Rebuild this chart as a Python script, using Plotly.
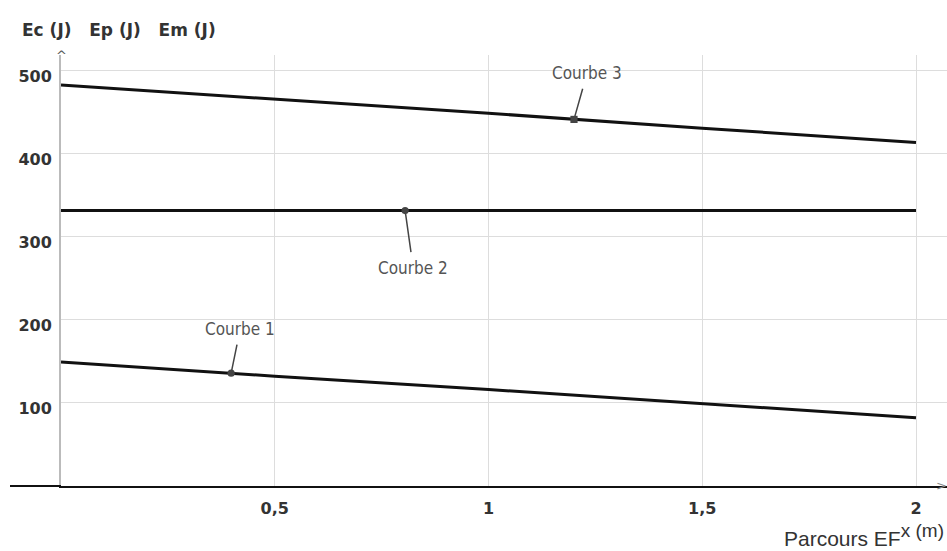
import plotly.graph_objects as go

# Data
x_vals = [0, 0.5, 1, 1.5, 2]
courbe1 = [149, 132, 116, 99, 82]
courbe2 = [331, 331, 331, 331, 331]
courbe3 = [482, 465, 448, 430, 413]

x_tickvals = [0, 0.5, 1, 1.5, 2]
x_ticktext = ["", "0,5", "1", "1,5", "2"]
y_tickvals = [100, 200, 300, 400, 500]
y_ticktext = ["100", "200", "300", "400", "500"]

W, H = 947, 551
def px(xp):
    return xp / W
def py(yp):
    return 1 - yp / H

fig = go.Figure()
for ys in (courbe1, courbe2, courbe3):
    fig.add_trace(go.Scatter(x=x_vals, y=ys, mode="lines",
                             line=dict(color="#111111", width=3), showlegend=False))

tick_font = dict(family="DejaVu Sans", size=16, color="#333333", weight="bold")
fig.update_layout(
    width=W, height=H, margin=dict(l=0, r=0, t=0, b=0),
    paper_bgcolor="white", plot_bgcolor="white",
    xaxis=dict(domain=[61 / W, 1], range=[0, (947 - 61) / 427.5],
               tickvals=x_tickvals, ticktext=x_ticktext,
               showgrid=True, gridcolor="#dddddd", gridwidth=1,
               zeroline=False, showline=True, linecolor="#111111", linewidth=2,
               ticks="", tickfont=tick_font, ticklabelstandoff=7),
    yaxis=dict(domain=[py(486), py(55)], range=[0, (486 - 55) / 0.832],
               tickvals=y_tickvals, ticktext=y_ticktext,
               showgrid=True, gridcolor="#dddddd", gridwidth=1,
               zeroline=False, showline=True, linecolor="#bbbbbb", linewidth=2,
               ticks="", tickfont=tick_font, ticklabelshift=6, ticklabelstandoff=4),
)

# extend x axis line to the left of the origin
fig.add_shape(type="line", xref="paper", yref="paper",
              x0=px(10), x1=px(61), y0=py(486), y1=py(486),
              line=dict(color="#111111", width=2))

ann = []
# axis titles
ann.append(dict(text="<b>Ec (J)&nbsp;&nbsp;&nbsp;Ep (J)&nbsp;&nbsp;&nbsp;Em (J)</b>", xref="paper", yref="paper",
                x=px(20), y=py(30), xanchor="left", yanchor="middle", showarrow=False,
                font=dict(family="DejaVu Sans", size=17, color="#333333")))
ann.append(dict(text="Parcours EF<sup><span style='font-size:19px'>x (m)</span></sup>",
                xref="paper", yref="paper",
                x=px(946), y=py(535), xanchor="right", yanchor="middle", showarrow=False,
                font=dict(family="Liberation Sans", size=21, color="#333333")))
# axis arrows
ann.append(dict(text="^", xref="paper", yref="paper", x=px(61), y=py(56),
                xanchor="center", yanchor="middle", showarrow=False,
                font=dict(family="DejaVu Sans", size=13, color="#555555")))
ann.append(dict(text=">", xref="paper", yref="paper", x=px(941), y=py(485),
                xanchor="center", yanchor="middle", showarrow=False,
                font=dict(family="DejaVu Sans", size=13, color="#888888")))

cfont = dict(family="DejaVu Sans Condensed, DejaVu Sans", size=17, color="#555555")
# curve labels with pointers
ann.append(dict(text="Courbe 3", x=1.2, y=courbe3[0] + (courbe3[-1] - courbe3[0]) * 0.6,
                ax=13, ay=-46, showarrow=True, arrowhead=7, arrowsize=1.2,
                arrowwidth=1.5, arrowcolor="#444444", startstandoff=4, font=cfont))
ann.append(dict(text="Courbe 2", x=0.805, y=courbe2[0], ax=8, ay=57, showarrow=True,
                arrowhead=6, arrowsize=1.2, arrowwidth=1.5, arrowcolor="#444444",
                startstandoff=4, font=cfont))
ann.append(dict(text="Courbe 1", x=0.398, y=courbe1[0] + (courbe1[-1] - courbe1[0]) * 0.199,
                ax=9, ay=-44, showarrow=True, arrowhead=6, arrowsize=1.2,
                arrowwidth=1.5, arrowcolor="#444444", startstandoff=4, font=cfont))
fig.update_layout(annotations=ann)

fig.write_html("out.html")
